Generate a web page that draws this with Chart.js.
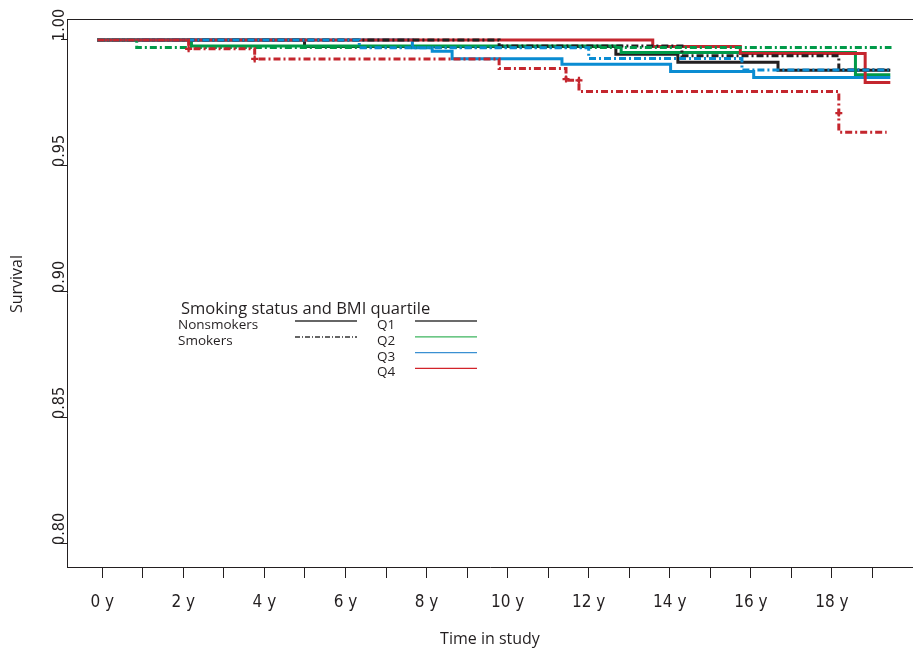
<!DOCTYPE html>
<html>
<head>
<meta charset="utf-8">
<script src="https://cdn.jsdelivr.net/npm/chart.js@4.4.0/dist/chart.umd.min.js"></script>
<style>
  html, body { margin: 0; padding: 0; background: #ffffff; }
  #wrap { width: 913px; height: 651px; position: relative; }
</style>
</head>
<body>
<div id="wrap"><canvas id="survival-chart"></canvas></div>
<script>
// Axis ticks and labels
const yearTicks = [0, 1, 2, 3, 4, 5, 6, 7, 8, 9, 10, 11, 12, 13, 14, 15, 16, 17, 18, 19];
const xTickLabels = ["0 y", "", "2 y", "", "4 y", "", "6 y", "", "8 y", "", "10 y", "", "12 y", "", "14 y", "", "16 y", "", "18 y", ""];
const survivalTicks = [0.80, 0.85, 0.90, 0.95, 1.00];
const survivalTickLabels = ["0.80", "0.85", "0.90", "0.95", "1.00"];

// Nonsmokers by BMI quartile (years, survival)
const nsQ1Time = [-0.12, 4.99, 12.67, 14.20, 16.67, 19.44];
const nsQ1Surv = [1, 0.9974, 0.9943, 0.9912, 0.9880, 0.9880];
const nsQ2Time = [-0.12, 2.20, 12.80, 18.58, 19.44];
const nsQ2Surv = [1, 0.9976, 0.9950, 0.9862, 0.9862];
const nsQ3Time = [-0.12, 7.65, 8.14, 8.63, 11.34, 14.02, 16.07, 19.44];
const nsQ3Surv = [1, 0.9969, 0.9955, 0.9926, 0.9904, 0.9875, 0.9851, 0.9851];
const nsQ4Time = [-0.12, 13.58, 15.74, 18.82, 19.44];
const nsQ4Surv = [1, 0.9974, 0.9946, 0.9831, 0.9831];

// Smokers by BMI quartile (years, survival)
const smQ1Time = [-0.12, 9.79, 14.30, 18.17, 19.47];
const smQ1Surv = [1, 0.9976, 0.9937, 0.9881, 0.9881];
const smQ2Time = [-0.12, 0.85, 19.47];
const smQ2Surv = [1, 0.9970, 0.9970];
const smQ3Time = [-0.12, 6.34, 12.00, 15.78, 19.40];
const smQ3Surv = [1, 0.9969, 0.9927, 0.9881, 0.9881];
const smQ4Time = [-0.12, 2.13, 3.76, 9.79, 11.44, 11.76, 18.17, 19.35];
const smQ4Surv = [1, 0.9965, 0.9925, 0.9887, 0.9840, 0.9796, 0.9634, 0.9634];

// Censoring marks on the smokers Q4 curve
const smQ4CensorTime = [2.13, 3.76, 11.44, 11.76, 18.17];
const smQ4CensorSurv = [0.9965, 0.9925, 0.9845, 0.9840, 0.9710];

const legendTitle = "Smoking status and BMI quartile";
const groupNames = ["Nonsmokers", "Smokers"];
const quartileNames = ["Q1", "Q2", "Q3", "Q4"];

// Colours
const BLACK = "#231f20";
const GREEN = "#009a49";
const BLUE = "#0a8cd2";
const RED = "#c4262e";
const legendColors = ["#3a3a3a", "#3db55e", "#3a90d2", "#d2232a"];
const DASH_DOT = [7, 3, 2, 3];

const NARROW = "'Liberation Sans Narrow', 'DejaVu Sans Condensed', sans-serif";
const SANS = "'Open Sans', Lato, sans-serif";

function toPoints(times, surv) {
  return times.map(function (t, i) {
    return { x: t, y: surv[i] };
  });
}

function curve(label, times, surv, color, smokers) {
  return {
    label: label,
    data: toPoints(times, surv),
    borderColor: color,
    backgroundColor: color,
    borderWidth: 3,
    borderDash: smokers ? DASH_DOT : [],
    stepped: true,
    fill: false,
    pointRadius: 0,
  };
}

// first dataset is drawn on top
const datasets = [
  {
    label: "Smokers Q4 censored",
    data: toPoints(smQ4CensorTime, smQ4CensorSurv),
    showLine: false,
    pointStyle: "cross",
    pointRadius: 3.5,
    pointBorderWidth: 2.2,
    pointBorderColor: RED,
    borderColor: RED,
  },
  curve("Smokers Q4", smQ4Time, smQ4Surv, RED, true),
  curve("Smokers Q3", smQ3Time, smQ3Surv, BLUE, true),
  curve("Smokers Q2", smQ2Time, smQ2Surv, GREEN, true),
  curve("Smokers Q1", smQ1Time, smQ1Surv, BLACK, true),
  curve("Nonsmokers Q4", nsQ4Time, nsQ4Surv, RED, false),
  curve("Nonsmokers Q3", nsQ3Time, nsQ3Surv, BLUE, false),
  curve("Nonsmokers Q2", nsQ2Time, nsQ2Surv, GREEN, false),
  curve("Nonsmokers Q1", nsQ1Time, nsQ1Surv, BLACK, false),
];

// Frame top, rotated y labels, y title and the legend block
const extrasPlugin = {
  id: "extras",
  afterDraw(chart) {
    const ctx = chart.ctx;
    const area = chart.chartArea;
    const yScale = chart.scales.y;
    ctx.save();

    ctx.strokeStyle = BLACK;
    ctx.lineWidth = 1;
    ctx.beginPath();
    ctx.moveTo(area.left, area.top + 0.5);
    ctx.lineTo(area.right, area.top + 0.5);
    ctx.stroke();

    // y tick labels, parallel to axis
    ctx.fillStyle = BLACK;
    ctx.font = "16px " + NARROW;
    ctx.textAlign = "left";
    ctx.textBaseline = "alphabetic";
    survivalTicks.forEach(function (v, i) {
      const py = yScale.getPixelForValue(v);
      ctx.save();
      ctx.translate(area.left - 3, py + 1);
      ctx.rotate(-Math.PI / 2);
      ctx.fillText(survivalTickLabels[i], 0, 0);
      ctx.restore();
    });

    // y axis title
    ctx.save();
    ctx.font = "16px " + SANS;
    ctx.textAlign = "center";
    ctx.textBaseline = "middle";
    ctx.translate(17, 284);
    ctx.rotate(-Math.PI / 2);
    ctx.fillText("Survival", 0, 0);
    ctx.restore();

    // legend
    ctx.textAlign = "left";
    ctx.font = "16.5px " + SANS;
    ctx.fillText(legendTitle, 181, 314);
    ctx.font = "13.5px " + SANS;
    ctx.fillText(groupNames[0], 178, 329);
    ctx.fillText(groupNames[1], 178, 345);
    ctx.lineWidth = 1.3;
    ctx.strokeStyle = "#333333";
    ctx.beginPath();
    ctx.moveTo(295, 321);
    ctx.lineTo(357, 321);
    ctx.stroke();
    ctx.setLineDash([5, 2, 1, 2]);
    ctx.beginPath();
    ctx.moveTo(295, 337);
    ctx.lineTo(357, 337);
    ctx.stroke();
    ctx.setLineDash([]);
    quartileNames.forEach(function (q, i) {
      ctx.fillStyle = BLACK;
      ctx.fillText(q, 377, 329 + i * 15.8);
      ctx.strokeStyle = legendColors[i];
      ctx.beginPath();
      ctx.moveTo(415, 321 + i * 15.8);
      ctx.lineTo(477, 321 + i * 15.8);
      ctx.stroke();
    });
    ctx.restore();
  },
};

const config = {
  type: "line",
  data: { datasets: datasets },
  options: {
    responsive: true,
    maintainAspectRatio: false,
    animation: false,
    layout: { autoPadding: false, padding: { top: 19, right: 0, left: 0, bottom: 0 } },
    plugins: {
      legend: { display: false },
      tooltip: { enabled: false },
    },
    scales: {
      x: {
        type: "linear",
        min: -0.87,
        max: 20,
        afterBuildTicks: function (scale) {
          scale.ticks = yearTicks.map(function (v) { return { value: v }; });
        },
        afterFit: function (scale) { scale.height = 84; },
        ticks: {
          autoSkip: false,
          maxRotation: 0,
          padding: 14,
          color: BLACK,
          font: { family: NARROW, size: 17 },
          callback: function (value, index) { return xTickLabels[index]; },
        },
        grid: { drawOnChartArea: false, drawTicks: true, tickLength: 11, color: BLACK, lineWidth: 1 },
        border: { display: true, color: BLACK, width: 1 },
        title: {
          display: true,
          text: "Time in study",
          color: BLACK,
          font: { family: SANS, size: 16 },
          padding: { top: 0, bottom: 2 },
        },
      },
      y: {
        type: "linear",
        min: 0.79087,
        max: 1.00833,
        afterBuildTicks: function (scale) {
          scale.ticks = survivalTicks.map(function (v) { return { value: v }; });
        },
        afterFit: function (scale) { scale.width = 67; },
        ticks: { display: false },
        grid: { drawOnChartArea: false, drawTicks: true, tickLength: 6, color: BLACK, lineWidth: 1 },
        border: { display: true, color: BLACK, width: 1 },
        title: { display: false },
      },
    },
  },
  plugins: [extrasPlugin],
};

// Instantiate chart
const survivalChart = new Chart(document.getElementById("survival-chart"), config);
</script>
</body>
</html>
